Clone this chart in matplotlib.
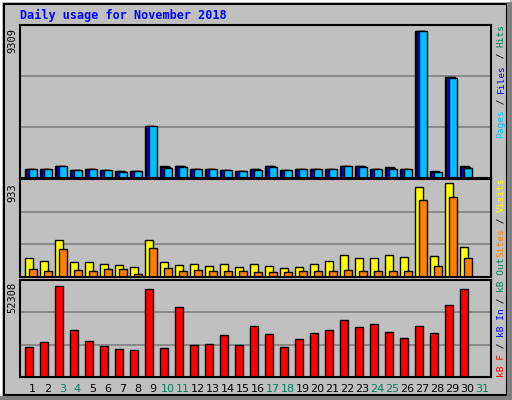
import matplotlib
matplotlib.use("Agg")
import matplotlib.pyplot as plt
from matplotlib.patches import Rectangle
import numpy as np

days = list(range(1, 32))
weekend_days = [3, 4, 10, 11, 17, 18, 24, 25, 31]
hits = [590, 590, 780, 525, 590, 525, 465, 465, 3300, 740, 740, 590, 590, 525, 465,
        590, 740, 525, 590, 590, 590, 780, 740, 590, 675, 590, 9309, 420, 6360, 740, 0]
files = [580, 580, 770, 515, 580, 515, 455, 455, 3290, 720, 730, 580, 580, 515, 455,
         560, 730, 515, 580, 580, 580, 770, 730, 580, 660, 580, 9300, 410, 6350, 720, 0]
pages = [560, 560, 760, 505, 560, 505, 400, 440, 3280, 640, 720, 560, 560, 500, 440,
         520, 720, 500, 560, 560, 560, 760, 720, 560, 570, 560, 9290, 400, 6340, 660, 0]
visits = [185, 164, 366, 154, 154, 134, 124, 104, 366, 154, 124, 134, 114, 134, 104,
          134, 114, 94, 104, 134, 164, 215, 185, 185, 215, 195, 902, 205, 933, 295, 0]
sites = [84, 64, 275, 74, 64, 84, 84, 34, 285, 94, 64, 74, 64, 64, 64,
         54, 54, 54, 64, 64, 64, 74, 64, 64, 64, 64, 772, 114, 802, 185, 0]
kbytes = [17245, 20120, 52308, 27000, 20690, 17820, 16290, 15520, 50580, 16670, 40240,
          18390, 18970, 24140, 18390, 29310, 24720, 17245, 21840, 25290, 27015, 32760,
          28740, 30460, 25870, 22420, 29310, 25290, 41390, 50580, 0]
title = "Daily usage for November 2018"

W, H = 512, 400
BG = "#C0C0C0"
fig = plt.figure(figsize=(W / 100, H / 100), dpi=100, facecolor=BG)

def fx(px): return px / W
def fy(py): return 1 - py / H

fig.patches.append(Rectangle((fx(1), fy(398)), fx(508), 397 / H, transform=fig.transFigure,
                             fill=False, edgecolor="white", lw=1.5))
fig.patches.append(Rectangle((fx(4), fy(395)), fx(503), 391 / H, transform=fig.transFigure,
                             fill=False, edgecolor="black", lw=1.5))
fig.patches.append(Rectangle((fx(507), fy(398)), fx(5), 396 / H, transform=fig.transFigure,
                             facecolor="#808080", edgecolor="none"))
fig.patches.append(Rectangle((fx(0), fy(400)), 1, 4 / H, transform=fig.transFigure,
                             facecolor="#808080", edgecolor="none"))

x = np.array(days, dtype=float)
L, R = 20, 491
XLIM = (0.667, 0.667 + (R - L) / 15.0)

def make_ax(top, bottom, ymax, frac):
    ax = fig.add_axes([fx(L), fy(bottom), fx(R - L), (bottom - top) / H])
    ax.set_facecolor(BG)
    ax.set_xlim(*XLIM)
    ylim = ymax / frac
    ax.set_ylim(0, ylim)
    for g in (ylim / 3, 2 * ylim / 3):
        ax.axhline(g, color="#808080", lw=1.2, zorder=0)
    ax.set_xticks([]); ax.set_yticks([])
    for s in ax.spines.values():
        s.set_color("black"); s.set_linewidth(1.5)
    return ax

kw = dict(align="edge", edgecolor="black", linewidth=1.0)
ax1 = make_ax(25, 178, max(hits), 0.963)
ax1.bar(x, hits, width=0.6, color="#00805C", **kw)
ax1.bar(x + 0.1, files, width=0.6, color="#0000FF", **kw)
ax1.bar(x + 0.27, pages, width=0.53, color="#00C0FF", **kw)

ax2 = make_ax(179, 277, max(visits), 0.955)
ax2.bar(x, visits, width=0.55, color="#FFFF00", **kw)
ax2.bar(x + 0.27, sites, width=0.5, color="#FF8000", **kw)

ax3 = make_ax(280, 377, max(kbytes), 0.94)
ax3.bar(x, kbytes, width=0.52, color="#FF0000", **kw)

for d in days:
    c = "#00805C" if d in weekend_days else "black"
    fig.text(fx(L + (d + 0.5 - XLIM[0]) * 15), fy(389), str(d), color=c,
             ha="center", va="center", fontsize=8)

fig.text(fx(20), fy(15), title, color="#0000FF", fontsize=8.5, fontweight="bold",
         family="DejaVu Sans Mono", ha="left", va="center")

for val, ytop in ((max(hits), 28), (max(visits), 183), (max(kbytes), 282)):
    fig.text(fx(12), fy(ytop), str(val), rotation=90, ha="center", va="top",
             fontsize=7.5, family="DejaVu Sans Mono")

FS = 6.8
def vlabel(parts, ybottom):
    step = 0.602 * FS * 100 / 72
    y = ybottom
    for txt, col in parts:
        fig.text(fx(501), fy(y), txt, rotation=90, ha="center", va="bottom", color=col,
                 fontsize=FS, family="DejaVu Sans Mono")
        y -= len(txt) * step

vlabel([("Pages", "#00C0FF"), (" / ", "black"), ("Files", "#0000FF"),
        (" / ", "black"), ("Hits", "#00805C")], 138)
vlabel([("Sites", "#FF8000"), (" / ", "black"), ("Visits", "#FFFF00")], 257)
vlabel([("kB F", "#FF0000"), (" / ", "black"), ("kB In", "#0000FF"),
        (" / ", "black"), ("kB Out", "#00805C")], 377)

fig.savefig("out.png", dpi=100, facecolor=BG)
